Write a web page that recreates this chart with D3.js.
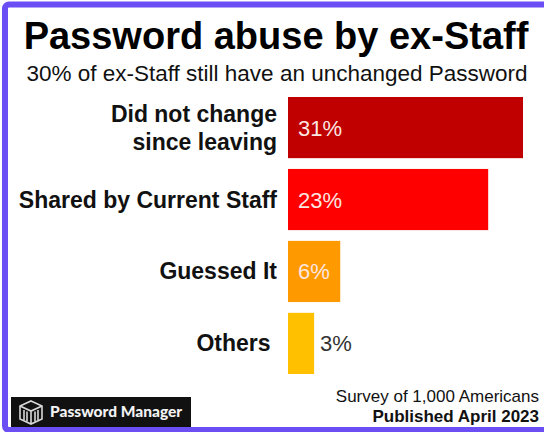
<!DOCTYPE html>
<html>
<head>
<meta charset="utf-8">
<script src="https://cdn.jsdelivr.net/npm/d3@7"></script>
<style>
  html, body { margin: 0; padding: 0; background: #fff; }
  svg { display: block; }
</style>
</head>
<body>
<svg id="chart" width="544" height="432"></svg>
<script>
// ---- data ----
const title = "Password abuse by ex-Staff";
const subtitle = "30% of ex-Staff still have an unchanged Password";
const categories = ["Did not change\nsince leaving", "Shared by Current Staff", "Guessed It", "Others\u00A0"];
const barValues = [27, 23, 6, 3];            // bar lengths as drawn in the picture
const valueLabels = ["31%", "23%", "6%", "3%"]; // printed labels
const barColors = ["#C00000", "#FF0000", "#FF9900", "#FFC000"];
const labelInside = [true, true, true, false];
const sourceLine = "Survey of 1,000 Americans";
const publishedLine = "Published April 2023";
const brandName = "Password Manager";

const W = 544, H = 432;
const svg = d3.select("#chart");
const font = "'Liberation Sans', Arial, Helvetica, sans-serif";

// frame
svg.append("rect")
  .attr("x", 5).attr("y", 4.5).attr("width", 700).attr("height", 425.5)
  .attr("rx", 4)
  .attr("fill", "#fff").attr("stroke", "#6B4FF5").attr("stroke-width", 6);

// title & subtitle
svg.append("text")
  .attr("x", 276).attr("y", 49)
  .attr("text-anchor", "middle")
  .attr("font-family", font).attr("font-weight", "bold").attr("font-size", 38)
  .attr("fill", "#000")
  .text(title);

svg.append("text")
  .attr("x", 277).attr("y", 81)
  .attr("text-anchor", "middle")
  .attr("font-family", font).attr("font-size", 22.5)
  .attr("fill", "#111")
  .text(subtitle);

// scales
const x = d3.scaleLinear().domain([0, d3.max(barValues)]).range([288, 523]);
const y = d3.scaleBand().domain(categories).range([97, 374]).paddingInner(0.15).paddingOuter(0);

const data = categories.map((c, i) => ({
  cat: c, v: barValues[i], label: valueLabels[i], color: barColors[i], inside: labelInside[i]
}));

// bars
svg.append("g").selectAll("rect")
  .data(data).join("rect")
  .attr("x", x(0))
  .attr("y", d => y(d.cat))
  .attr("width", d => x(d.v) - x(0))
  .attr("height", y.bandwidth())
  .attr("fill", d => d.color);

// category labels
const catG = svg.append("g");
data.forEach(d => {
  const lines = d.cat.split("\n");
  const lh = 28;
  const cy = y(d.cat) + y.bandwidth() / 2;
  const t = catG.append("text")
    .attr("x", 277)
    .attr("text-anchor", "end")
    .attr("font-family", font).attr("font-weight", "bold").attr("font-size", 23)
    .attr("fill", "#111")
    .attr("xml:space", "preserve");
  lines.forEach((ln, j) => {
    t.append("tspan")
      .attr("x", 277)
      .attr("y", cy + 8 + (j - (lines.length - 1) / 2) * lh)
      .text(ln);
  });
});

// value labels
svg.append("g").selectAll("text")
  .data(data).join("text")
  .attr("x", d => d.inside ? x(0) + 10 : x(d.v) + 6)
  .attr("y", d => y(d.cat) + y.bandwidth() / 2 + 8)
  .attr("font-family", font).attr("font-size", 22)
  .attr("fill", d => d.inside ? "#FCE6E1" : "#333")
  .text(d => d.label);

// footer text
svg.append("text")
  .attr("x", 539).attr("y", 402)
  .attr("text-anchor", "end")
  .attr("font-family", font).attr("font-size", 17)
  .attr("fill", "#111")
  .text(sourceLine);
svg.append("text")
  .attr("x", 539).attr("y", 422)
  .attr("text-anchor", "end")
  .attr("font-family", font).attr("font-weight", "bold").attr("font-size", 17)
  .attr("fill", "#111")
  .text(publishedLine);

// brand badge
const logo = svg.append("g").attr("transform", "translate(11,397)");
logo.append("rect").attr("width", 180).attr("height", 30).attr("fill", "#111");
const icon = logo.append("g").attr("transform", "translate(8,3)")
  .attr("fill", "none").attr("stroke", "#d8d8d8").attr("stroke-width", 1.6);
icon.append("path").attr("d", "M12,1 L23,6 L23,19 L12,24 L1,19 L1,6 Z");
icon.append("path").attr("d", "M1,6 L12,11 L23,6 M12,11 L12,24");
icon.append("path").attr("d", "M5,10 L5,20 M8,11.5 L8,21.5 M16,11.5 L16,21.5 M19,10 L19,20");
logo.append("text")
  .attr("x", 39).attr("y", 20)
  .attr("font-family", "Lato, 'DejaVu Sans', sans-serif").attr("font-weight", "900")
  .attr("font-size", 15.5)
  .attr("fill", "#f2f2f2")
  .text(brandName);
</script>
</body>
</html>
